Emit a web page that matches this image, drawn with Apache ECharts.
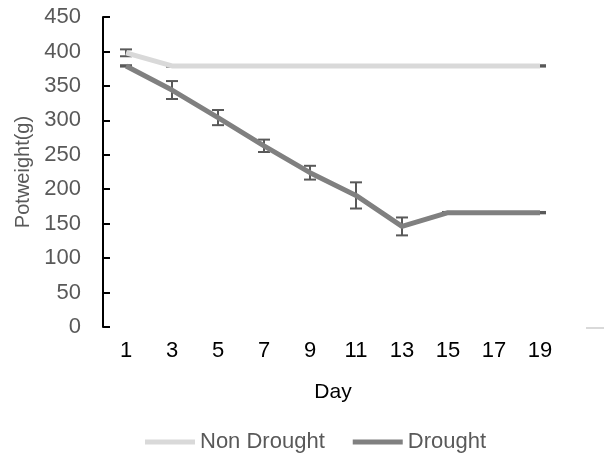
<!DOCTYPE html>
<html><head><meta charset="utf-8">
<script src="https://cdn.jsdelivr.net/npm/echarts@6/dist/echarts.min.js"></script>
<style>html,body{margin:0;padding:0;background:#fff}#c{width:604px;height:455px}</style>
</head><body><div id="c"></div>
<script>
const days = ['1','3','5','7','9','11','13','15','17','19'];
const nonDrought = [398, 379, 379, 379, 379, 379, 379, 379, 379, 379];
const nonDroughtErr = [5, 1, 1, 1, 1, 1, 1, 1, 1, 1];
const drought = [379, 344, 304, 263, 224, 191, 146, 166, 166, 166];
const droughtErr = [1, 13, 11, 9, 10, 19, 13, 1, 1, 1];
const yTicks = [0, 450, 50];

const FONT = 'Liberation Sans, Arial, sans-serif';
function errData(vals, errs){ return vals.map((v,i)=>[i, v-errs[i], v+errs[i]]); }
function errSeries(vals, errs){
  return {
    type:'custom', z:1, silent:true,
    data: errData(vals, errs),
    encode:{x:0, y:[1,2]},
    renderItem: function(params, api){
      const x = api.value(0);
      const lo = api.coord([x, api.value(1)]);
      const hi = api.coord([x, api.value(2)]);
      const w = 6;
      const st = {stroke:'#595959', lineWidth:2};
      return {type:'group', children:[
        {type:'line', shape:{x1:lo[0], y1:lo[1], x2:hi[0], y2:hi[1]}, style:st},
        {type:'line', shape:{x1:lo[0]-w, y1:lo[1], x2:lo[0]+w, y2:lo[1]}, style:st},
        {type:'line', shape:{x1:hi[0]-w, y1:hi[1], x2:hi[0]+w, y2:hi[1]}, style:st}
      ]};
    }
  };
}
const chart = echarts.init(document.getElementById('c'), null, {renderer:'canvas'});
chart.setOption({
  animation:false,
  textStyle:{fontFamily:FONT},
  grid:{left:103, right:41, top:17, bottom:128, containLabel:false},
  legend:{
    left:140, top:426, itemWidth:50, itemHeight:5, itemGap:28,
    icon:'rect',
    textStyle:{color:'#595959', fontSize:22, fontFamily:FONT},
    data:['Non Drought','Drought']
  },
  xAxis:{
    type:'category', data:days, boundaryGap:true,
    axisLine:{show:false}, axisTick:{show:false},
    axisLabel:{color:'#000', fontSize:22, margin:13, fontFamily:FONT},
    name:'Day', nameLocation:'middle', nameGap:55,
    nameTextStyle:{color:'#000', fontSize:21, fontFamily:FONT}
  },
  yAxis:{
    type:'value', min:yTicks[0], max:yTicks[1], interval:yTicks[2],
    splitLine:{show:false},
    axisLine:{show:true, lineStyle:{color:'#000', width:2}},
    axisTick:{show:true, inside:true, length:7, lineStyle:{color:'#000', width:2}},
    axisLabel:{color:'#595959', fontSize:22, margin:22, fontFamily:FONT},
    name:'Potweight(g)', nameLocation:'middle', nameGap:63,
    nameTextStyle:{color:'#595959', fontSize:20, fontFamily:FONT}
  },
  series:[
    errSeries(nonDrought, nonDroughtErr),
    errSeries(drought, droughtErr),
    {name:'Non Drought', type:'line', data:nonDrought, z:3, showSymbol:false, symbol:'none',
     color:'#D9D9D9', lineStyle:{color:'#D9D9D9', width:5, cap:'butt'}},
    {name:'Drought', type:'line', data:drought, z:3, showSymbol:false, symbol:'none',
     color:'#808080', lineStyle:{color:'#808080', width:5, cap:'butt'}}
  ],
  graphic:[
    {type:'line', shape:{x1:586, y1:328, x2:604, y2:328}, style:{stroke:'#D9D9D9', lineWidth:2}}
  ]
});
</script>
</body></html>
